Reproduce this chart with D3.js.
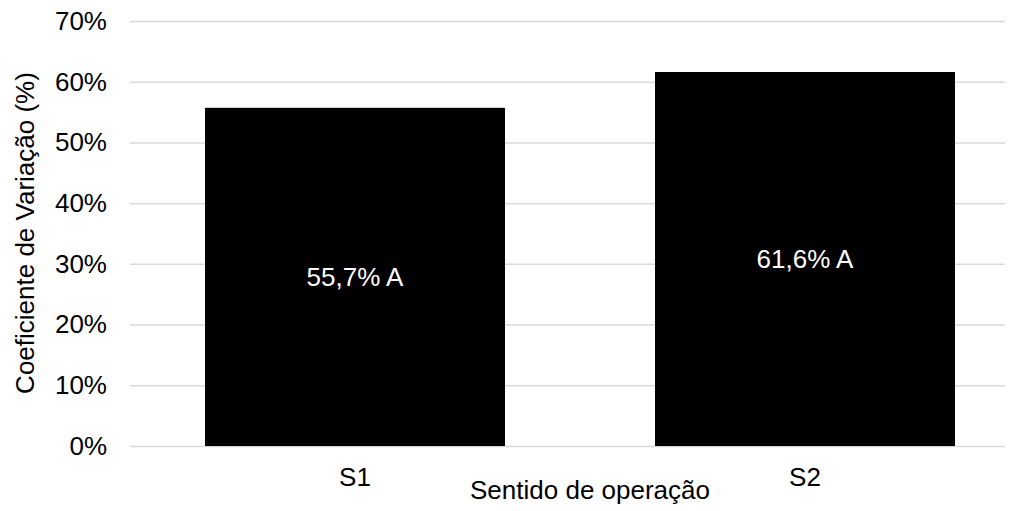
<!DOCTYPE html>
<html>
<head>
<meta charset="utf-8">
<script src="https://cdn.jsdelivr.net/npm/d3@7"></script>
<style>
  body { margin: 0; background: #fff; }
  text { font-family: "Liberation Sans", Arial, sans-serif; fill: #000; }
</style>
</head>
<body>
<svg id="chart" width="1023" height="511"></svg>
<script>
// data
const categories = ["S1", "S2"];
const values = [55.7, 61.6];
const labels = ["55,7% A", "61,6% A"];
const yTicks = [0, 10, 20, 30, 40, 50, 60, 70];

const svg = d3.select("#chart");
const margin = { left: 130, right: 18, top: 21, bottom: 65 };
const width = 1023 - margin.left - margin.right;
const height = 511 - margin.top - margin.bottom;
const fs = "26px";

const x = d3.scaleBand().domain(categories).range([0, 900]).paddingInner(1 / 3).paddingOuter(1 / 6);
const y = d3.scaleLinear().domain([0, 70]).range([height, 0]);

const g = svg.append("g").attr("transform", `translate(${margin.left},${margin.top})`);

// gridlines
g.append("g")
  .call(d3.axisLeft(y).tickValues(yTicks).tickSize(-width).tickFormat(""))
  .call(s => s.select(".domain").remove())
  .call(s => s.selectAll("line").attr("stroke", "#d9d9d9").attr("stroke-width", 1.5));

// y tick labels
g.append("g")
  .call(d3.axisLeft(y).tickValues(yTicks).tickSize(0).tickPadding(23).tickFormat(d => d + "%"))
  .call(s => s.select(".domain").remove())
  .call(s => s.selectAll("text").style("font-size", fs).style("font-family", "Liberation Sans, Arial, sans-serif").attr("fill", "#000"));

// bars
g.selectAll("rect.bar").data(values).join("rect")
  .attr("class", "bar")
  .attr("x", (d, i) => x(categories[i]))
  .attr("width", x.bandwidth())
  .attr("y", d => y(d))
  .attr("height", d => height - y(d))
  .attr("fill", "#000");

// bar labels
g.selectAll("text.lbl").data(values).join("text")
  .attr("class", "lbl")
  .attr("x", (d, i) => x(categories[i]) + x.bandwidth() / 2)
  .attr("y", d => (y(d) + height) / 2)
  .attr("dy", "0.35em")
  .attr("text-anchor", "middle")
  .style("font-size", fs)
  .style("fill", "#fff")
  .text((d, i) => labels[i]);

// x axis labels
g.append("g").attr("transform", `translate(0,${height})`)
  .call(d3.axisBottom(x).tickSize(0).tickPadding(22))
  .call(s => s.select(".domain").remove())
  .call(s => s.selectAll("text").style("font-size", fs).style("font-family", "Liberation Sans, Arial, sans-serif").attr("fill", "#000"));

// axis titles
svg.append("text")
  .attr("x", 590)
  .attr("y", 499)
  .attr("text-anchor", "middle")
  .style("font-size", fs)
  .text("Sentido de operação");

svg.append("text")
  .attr("transform", `translate(34,233) rotate(-90)`)
  .attr("text-anchor", "middle")
  .style("font-size", fs)
  .text("Coeficiente de Variação (%)");
</script>
</body>
</html>
